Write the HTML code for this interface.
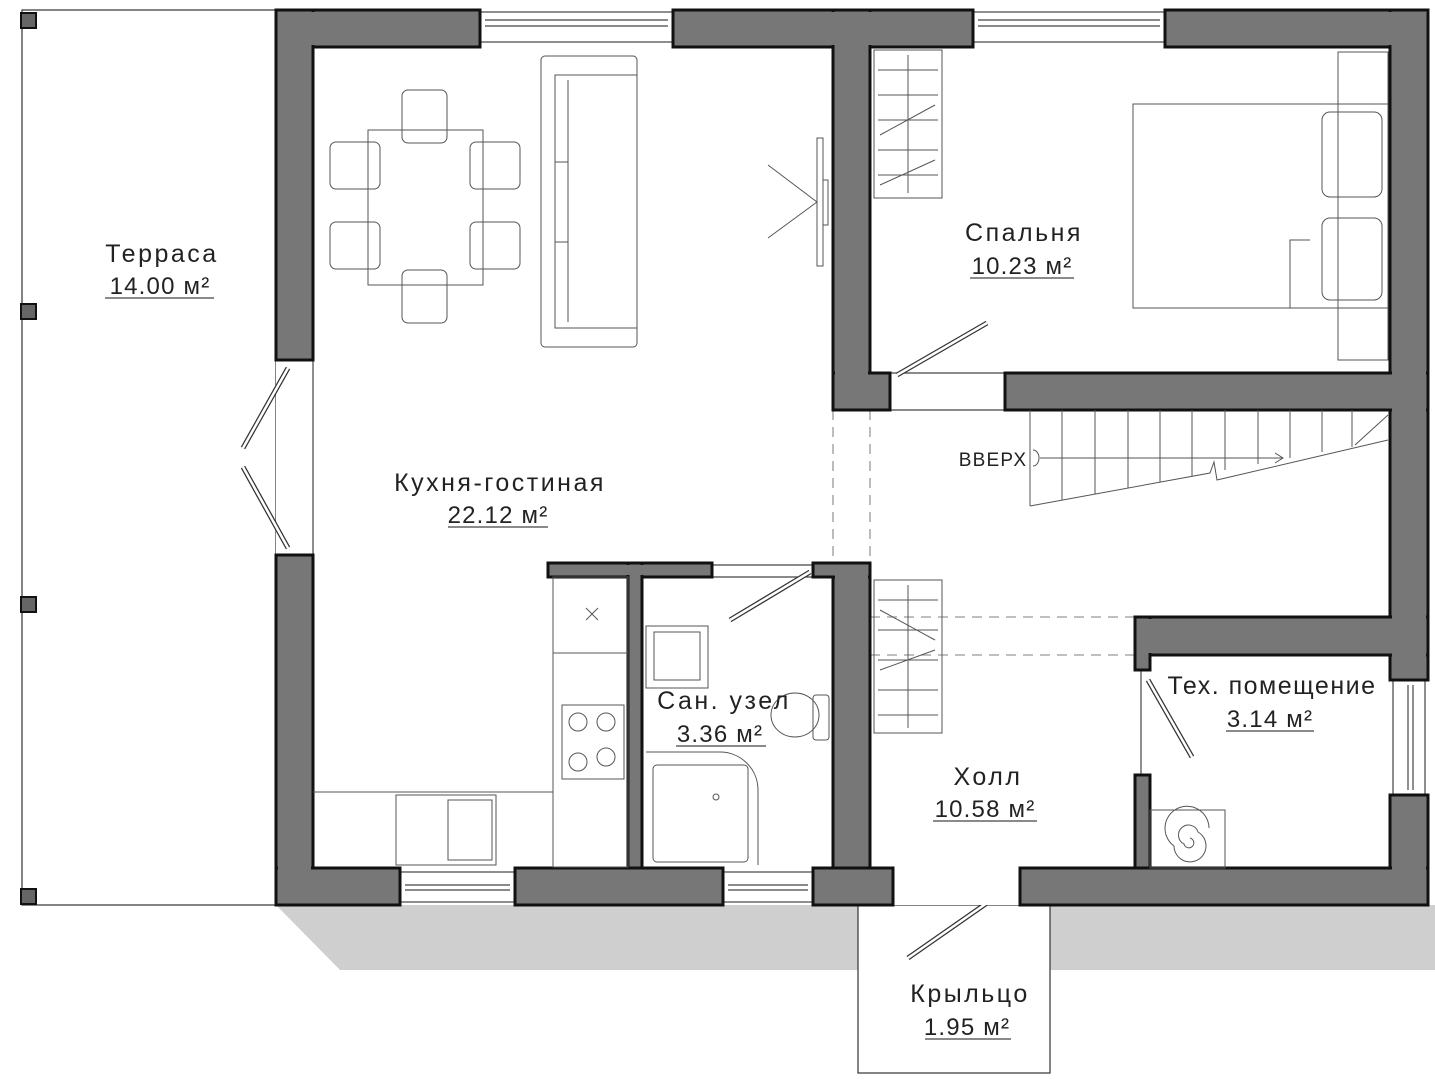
<!DOCTYPE html>
<html><head><meta charset="utf-8"><style>
html,body{margin:0;padding:0;background:#fff;}
svg{display:block;}
text{font-family:"Liberation Sans",sans-serif;fill:#222;}
</style></head><body>
<svg width="1435" height="1080" viewBox="0 0 1435 1080" xmlns="http://www.w3.org/2000/svg">
<!-- shadow -->
<polygon points="276,905 1435,905 1435,970 340,970" fill="#cfcfcf"/>
<!-- porch -->
<rect x="858" y="905" width="192" height="168" fill="#fff" stroke="#333" stroke-width="1.2"/>
<line x1="908" y1="958" x2="1020" y2="880" stroke="#333" stroke-width="5"/>
<line x1="908" y1="958" x2="1020" y2="880" stroke="#fff" stroke-width="2.5"/>
<!-- terrace -->
<rect x="22" y="10" width="254" height="895" fill="#fff" stroke="#333" stroke-width="1.2"/>
<g fill="#666" stroke="#111" stroke-width="2">
<rect x="21" y="13" width="15" height="15"/><rect x="21" y="304" width="15" height="15"/>
<rect x="21" y="597" width="15" height="15"/><rect x="21" y="889" width="15" height="15"/>
</g>
<!-- interior floor -->
<rect x="276" y="10" width="1152" height="895" fill="#fff"/>
<!-- windows -->
<g stroke="#444" fill="none" stroke-width="1.2">
<rect x="480" y="12" width="193" height="30"/><line x1="485" y1="20" x2="668" y2="20"/><line x1="485" y1="26" x2="668" y2="26"/>
<rect x="973" y="12" width="192" height="30"/><line x1="978" y1="20" x2="1160" y2="20"/><line x1="978" y1="26" x2="1160" y2="26"/>
<rect x="400" y="872" width="115" height="30"/><line x1="405" y1="885" x2="510" y2="885"/><line x1="405" y1="890" x2="510" y2="890"/>
<rect x="723" y="872" width="90" height="30"/><line x1="728" y1="885" x2="808" y2="885"/><line x1="728" y1="890" x2="808" y2="890"/>
<rect x="1393" y="680" width="32" height="115"/><line x1="1408" y1="685" x2="1408" y2="790"/><line x1="1413" y1="685" x2="1413" y2="790"/>
<line x1="313" y1="360" x2="313" y2="555"/>
<line x1="890" y1="373" x2="1005" y2="373"/><line x1="890" y1="410" x2="1005" y2="410"/>
<line x1="712" y1="565" x2="813" y2="565"/><line x1="712" y1="577" x2="813" y2="577"/>
<line x1="1141" y1="670" x2="1141" y2="775"/>
</g>
<!-- doors -->
<g stroke="#333" stroke-width="5" stroke-linecap="butt">
<line x1="288" y1="368" x2="243" y2="448"/><line x1="243" y1="467" x2="288" y2="548"/>
<line x1="897" y1="375" x2="987" y2="323"/>
<line x1="810" y1="572" x2="730" y2="620"/>
<line x1="1148" y1="680" x2="1192" y2="757"/>
</g>
<g stroke="#fff" stroke-width="2.5">
<line x1="288" y1="368" x2="243" y2="448"/><line x1="243" y1="467" x2="288" y2="548"/>
<line x1="897" y1="375" x2="987" y2="323"/>
<line x1="810" y1="572" x2="730" y2="620"/>
<line x1="1148" y1="680" x2="1192" y2="757"/>
</g>
<!-- dashed lines -->
<g stroke="#999" stroke-width="1.3" stroke-dasharray="10,7" fill="none">
<line x1="833" y1="410" x2="833" y2="563"/><line x1="870" y1="410" x2="870" y2="563"/>
<line x1="870" y1="617" x2="1135" y2="617"/><line x1="870" y1="655" x2="1135" y2="655"/>
</g>
<!-- walls -->
<g fill="#777" stroke="#111" stroke-width="3">
<rect x="276" y="10" width="204" height="37"/>
<rect x="276" y="10" width="37" height="350"/>
<rect x="276" y="555" width="37" height="350"/>
<rect x="673" y="10" width="300" height="37"/>
<rect x="833" y="10" width="37" height="400"/>
<rect x="833" y="373" width="57" height="37"/>
<rect x="1165" y="10" width="263" height="37"/>
<rect x="1390" y="10" width="38" height="670"/>
<rect x="1005" y="373" width="423" height="37"/>
<rect x="1390" y="795" width="38" height="110"/>
<rect x="276" y="868" width="124" height="37"/>
<rect x="515" y="868" width="208" height="37"/>
<rect x="813" y="868" width="80" height="37"/>
<rect x="1020" y="868" width="408" height="37"/>
<rect x="548" y="563" width="164" height="14"/>
<rect x="628" y="563" width="14" height="305"/>
<rect x="833" y="563" width="37" height="305"/>
<rect x="813" y="563" width="57" height="14"/>
<rect x="1135" y="617" width="293" height="38"/>
<rect x="1135" y="617" width="15" height="53"/>
<rect x="1135" y="775" width="15" height="93"/>
</g>
<g fill="#777">
<rect x="278" y="12" width="200" height="33"/><rect x="278" y="12" width="33" height="346"/>
<rect x="675" y="12" width="296" height="33"/><rect x="835" y="12" width="33" height="396"/><rect x="835" y="375" width="53" height="33"/>
<rect x="1167" y="12" width="259" height="33"/><rect x="1392" y="12" width="34" height="666"/><rect x="1007" y="375" width="419" height="33"/>
<rect x="278" y="870" width="120" height="33"/><rect x="278" y="557" width="33" height="346"/>
<rect x="1022" y="870" width="404" height="33"/><rect x="1392" y="797" width="34" height="106"/>
<rect x="630" y="565" width="10" height="301"/><rect x="550" y="565" width="160" height="10"/>
<rect x="835" y="565" width="33" height="301"/><rect x="815" y="565" width="53" height="10"/>
<rect x="1137" y="619" width="289" height="34"/><rect x="1137" y="619" width="11" height="49"/>
<rect x="1137" y="777" width="11" height="89"/><rect x="517" y="870" width="204" height="33"/><rect x="815" y="870" width="76" height="33"/>
</g>
<!-- furniture -->
<g stroke="#555" stroke-width="1" fill="none">
<rect x="368" y="130" width="115" height="155"/>
<rect x="402" y="90" width="45" height="53" rx="6"/><rect x="402" y="270" width="45" height="53" rx="6"/>
<rect x="330" y="142" width="50" height="47" rx="6"/><rect x="330" y="222" width="50" height="47" rx="6"/>
<rect x="470" y="142" width="50" height="47" rx="6"/><rect x="470" y="222" width="50" height="47" rx="6"/>
<rect x="541" y="56" width="96" height="291" rx="4"/>
<rect x="555" y="75" width="82" height="253"/><line x1="568" y1="80" x2="568" y2="322"/>
<line x1="555" y1="162" x2="568" y2="162"/><line x1="555" y1="242" x2="568" y2="242"/>
<rect x="817" y="138" width="6" height="128"/><rect x="823" y="180" width="5" height="45"/>
<line x1="768" y1="165" x2="817" y2="202"/><line x1="768" y1="238" x2="817" y2="202"/>
<rect x="874" y="50" width="68" height="148"/>
<line x1="878" y1="70" x2="938" y2="70"/><line x1="878" y1="95" x2="938" y2="95"/><line x1="878" y1="120" x2="938" y2="120"/><line x1="878" y1="150" x2="938" y2="150"/><line x1="878" y1="175" x2="938" y2="175"/>
<line x1="908" y1="55" x2="908" y2="193"/><line x1="880" y1="135" x2="935" y2="105"/><line x1="880" y1="185" x2="935" y2="160"/>
<rect x="1133" y="104" width="255" height="204"/>
<rect x="1338" y="52" width="50" height="308"/>
<rect x="1322" y="112" width="60" height="85" rx="8"/><rect x="1322" y="218" width="60" height="82" rx="8"/>
<polyline points="1290,308 1290,240 1310,240"/>
<rect x="874" y="580" width="68" height="153"/>
<line x1="878" y1="600" x2="938" y2="600"/><line x1="878" y1="630" x2="938" y2="630"/><line x1="878" y1="660" x2="938" y2="660"/><line x1="878" y1="690" x2="938" y2="690"/><line x1="878" y1="715" x2="938" y2="715"/>
<line x1="908" y1="585" x2="908" y2="728"/><line x1="880" y1="610" x2="935" y2="640"/><line x1="880" y1="670" x2="935" y2="650"/>
<rect x="1150" y="810" width="75" height="58"/>
<path d="M1190,838 a5,5 0 1 1 -6,6 a10,10 0 1 1 14,-12 a16,16 0 1 1 -24,14 a22,22 0 1 1 35,-18"/>
<rect x="553" y="577" width="75" height="290"/>
<line x1="553" y1="653" x2="628" y2="653"/><line x1="313" y1="792" x2="553" y2="792"/>
<line x1="586" y1="608" x2="598" y2="620"/><line x1="598" y1="608" x2="586" y2="620"/>
<rect x="562" y="705" width="62" height="74"/>
<circle cx="578" cy="722" r="9"/><circle cx="606" cy="722" r="9"/><circle cx="578" cy="762" r="9"/><circle cx="606" cy="757" r="9"/>
<rect x="396" y="795" width="100" height="70"/><rect x="448" y="800" width="44" height="60"/>
<rect x="646" y="626" width="62" height="62"/><rect x="654" y="632" width="46" height="48"/>
<path d="M646,752 H720 A38,38 0 0 1 758,790 V865"/><rect x="653" y="765" width="95" height="97" rx="4"/>
<circle cx="716" cy="797" r="3"/>
<ellipse cx="795" cy="715" rx="24" ry="22"/><rect x="813" y="695" width="16" height="45" rx="3"/>
</g>
<!-- stairs -->
<g stroke="#555" stroke-width="1" fill="none">
<line x1="1030" y1="410" x2="1030" y2="506"/>
<line x1="1062" y1="410" x2="1062" y2="500"/><line x1="1095" y1="410" x2="1095" y2="494"/><line x1="1128" y1="410" x2="1128" y2="488"/>
<line x1="1160" y1="410" x2="1160" y2="482"/><line x1="1192" y1="410" x2="1192" y2="476"/><line x1="1225" y1="410" x2="1225" y2="470"/>
<line x1="1258" y1="410" x2="1258" y2="464"/><line x1="1290" y1="410" x2="1290" y2="458"/><line x1="1322" y1="410" x2="1322" y2="452"/>
<line x1="1352" y1="410" x2="1352" y2="447"/>
<polyline points="1030,506 1210,473 1214,462 1217,480 1388,440"/>
<line x1="1355" y1="445" x2="1388" y2="415"/>
<line x1="1040" y1="458" x2="1283" y2="458"/><polyline points="1275,453 1283,458 1275,463"/>
<path d="M1033,450 a6,8 0 0 1 0,16"/>
</g>
<!-- labels -->
<g font-size="25" text-anchor="middle" letter-spacing="2.5">
<text x="162" y="262">Терраса</text>
<text x="500" y="491">Кухня-гостиная</text>
<text x="1024" y="241">Спальня</text>
<text x="724" y="709">Сан. узел</text>
<text x="1272" y="694" letter-spacing="1.5">Тех. помещение</text>
<text x="988" y="785">Холл</text>
<text x="970" y="1002">Крыльцо</text>
</g>
<g font-size="24" text-anchor="middle" letter-spacing="1.2">
<text x="160" y="294" fill="#444">14.00 м²</text>
<text x="498" y="523" fill="#444">22.12 м²</text>
<text x="1022" y="274" fill="#444">10.23 м²</text>
<text x="720" y="742" fill="#444">3.36 м²</text>
<text x="1270" y="727" fill="#444">3.14 м²</text>
<text x="985" y="817" fill="#444">10.58 м²</text>
<text x="967" y="1035" fill="#444">1.95 м²</text>
</g>
<text x="993" y="466" font-size="19" text-anchor="middle" letter-spacing="1.2">ВВЕРХ</text>
<g stroke="#444" stroke-width="1.2">
<line x1="105" y1="298" x2="214" y2="298"/><line x1="448" y1="527" x2="548" y2="527"/>
<line x1="970" y1="278" x2="1074" y2="278"/><line x1="676" y1="746" x2="766" y2="746"/>
<line x1="1226" y1="731" x2="1314" y2="731"/><line x1="933" y1="821" x2="1037" y2="821"/>
<line x1="925" y1="1039" x2="1011" y2="1039"/>
</g>
</svg>
</body></html>
